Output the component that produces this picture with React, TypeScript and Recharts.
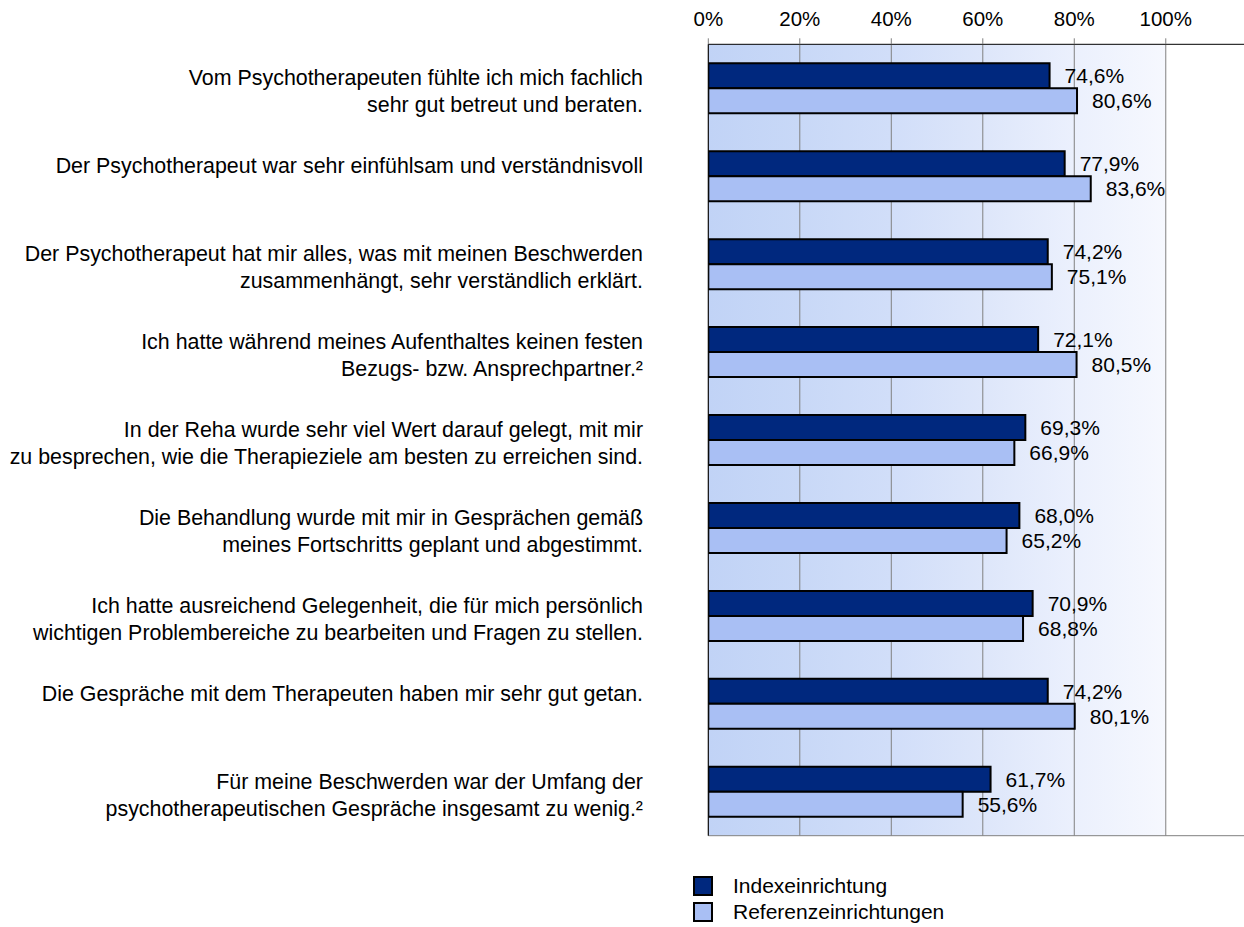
import React from 'react';
import { BarChart, Bar, XAxis, YAxis, CartesianGrid, LabelList } from 'recharts';

const questions = [
  'Vom Psychotherapeuten fühlte ich mich fachlich\nsehr gut betreut und beraten.',
  'Der Psychotherapeut war sehr einfühlsam und verständnisvoll',
  'Der Psychotherapeut hat mir alles, was mit meinen Beschwerden\nzusammenhängt, sehr verständlich erklärt.',
  'Ich hatte während meines Aufenthaltes keinen festen\nBezugs- bzw. Ansprechpartner.²',
  'In der Reha wurde sehr viel Wert darauf gelegt, mit mir\nzu besprechen, wie die Therapieziele am besten zu erreichen sind.',
  'Die Behandlung wurde mit mir in Gesprächen gemäß\nmeines Fortschritts geplant und abgestimmt.',
  'Ich hatte ausreichend Gelegenheit, die für mich persönlich\nwichtigen Problembereiche zu bearbeiten und Fragen zu stellen.',
  'Die Gespräche mit dem Therapeuten haben mir sehr gut getan.',
  'Für meine Beschwerden war der Umfang der\npsychotherapeutischen Gespräche insgesamt zu wenig.²',
];

const indexValues = [74.6, 77.9, 74.2, 72.1, 69.3, 68.0, 70.9, 74.2, 61.7];
const referenceValues = [80.6, 83.6, 75.1, 80.5, 66.9, 65.2, 68.8, 80.1, 55.6];

const xTicks = [0, 20, 40, 60, 80, 100];

const INDEX_COLOR = '#00287e';
const REF_COLOR = '#a9bff4';
const GRID = '#808080';

const data = questions.map((q, i) => ({
  question: q,
  index: indexValues[i],
  reference: referenceValues[i],
}));

const fmt = (v) => `${Number(v).toFixed(1).replace('.', ',')}%`;

// multi-line question labels, right aligned
const QuestionTick = ({ y, payload }) => {
  const lines = String(payload.value).split('\n');
  return (
    <text x={643} y={y - 3} textAnchor="end" fontSize={21.4} fill="#000">
      {lines.map((l, i) => (
        <tspan key={i} x={643} dy={i === 0 ? 0 : 27}>
          {l}
        </tspan>
      ))}
    </text>
  );
};

const PercentTick = ({ x, payload }) => (
  <text x={x} y={26} textAnchor="middle" fontSize={20.5} fill="#000">
    {payload.value}%
  </text>
);

const legendItems = [
  { name: 'Indexeinrichtung', color: INDEX_COLOR },
  { name: 'Referenzeinrichtungen', color: REF_COLOR },
];

const App = () => {
  return (
    <div
      style={{
        position: 'absolute',
        left: 0,
        top: 0,
        width: 1244,
        height: 927,
        overflow: 'hidden',
        background: '#fff',
        fontFamily: "Arial, 'Liberation Sans', sans-serif",
      }}
    >
      <BarChart
        width={1244}
        height={927}
        data={data}
        layout="vertical"
        barSize={25}
        barGap={0}
        margin={{ top: 14.3, right: 0, left: 0, bottom: 91.3 }}
      >
        <defs>
          <linearGradient id="bgGrad" x1="0" y1="0" x2="1" y2="0">
            <stop offset="0" stopColor="#c1d3f6" />
            <stop offset="0.17" stopColor="#c8d8f7" />
            <stop offset="0.34" stopColor="#d1def9" />
            <stop offset="0.51" stopColor="#dde6fa" />
            <stop offset="0.68" stopColor="#ebf0fd" />
            <stop offset="0.853" stopColor="#f6f8fe" />
            <stop offset="0.854" stopColor="#ffffff" />
            <stop offset="1" stopColor="#ffffff" />
          </linearGradient>
        </defs>
        <CartesianGrid
          fill="url(#bgGrad)"
          stroke={GRID}
          syncWithTicks
          horizontalPoints={[835.7]}
        />
        <XAxis
          type="number"
          orientation="top"
          domain={[0, 117.1]}
          allowDataOverflow
          ticks={xTicks}
          height={30}
          tick={<PercentTick />}
          tickSize={6}
          tickLine={{ stroke: GRID }}
          axisLine={{ stroke: '#000' }}
        />
        <YAxis
          type="category"
          dataKey="question"
          width={708.3}
          tick={<QuestionTick />}
          tickLine={false}
          axisLine={{ stroke: '#000' }}
          interval={0}
        />
        <Bar dataKey="index" fill={INDEX_COLOR} stroke="#000" strokeWidth={2} isAnimationActive={false}>
          <LabelList dataKey="index" position="right" offset={15} formatter={fmt} fontSize={21} fill="#000" />
        </Bar>
        <Bar dataKey="reference" fill={REF_COLOR} stroke="#000" strokeWidth={2} isAnimationActive={false}>
          <LabelList dataKey="reference" position="right" offset={15} formatter={fmt} fontSize={21} fill="#000" />
        </Bar>
      </BarChart>

      {/* legend */}
      <div style={{ position: 'absolute', left: 693, top: 873 }}>
        {legendItems.map((item) => (
          <div key={item.name} style={{ display: 'flex', alignItems: 'center', height: 26 }}>
            <div
              style={{
                width: 20,
                height: 20,
                boxSizing: 'border-box',
                border: '2px solid #000',
                background: item.color,
              }}
            />
            <span style={{ marginLeft: 20, fontSize: 21, lineHeight: '20px' }}>{item.name}</span>
          </div>
        ))}
      </div>
    </div>
  );
};

export default App;
